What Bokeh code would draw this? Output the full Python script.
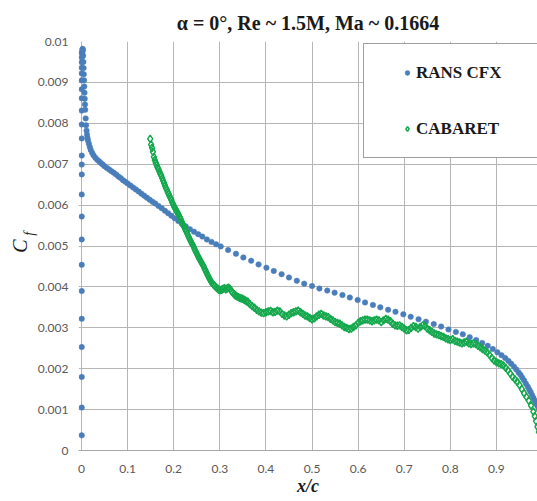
import math
from bokeh.plotting import figure
from bokeh.models import (ColumnDataSource, Legend, LegendItem, FixedTicker,
                          CustomJSTickFormatter, LinearAxis, Range1d)
from bokeh.embed import file_html
from bokeh.resources import INLINE

title_text = "α = 0°, Re ~ 1.5M, Ma ~ 0.1664"
x_label = "x/c"
y_label_main = "C"
y_label_sub = "f"
series_names = ["RANS CFX", "CABARET"]
x_ticks = [0.0, 0.1, 0.2, 0.3, 0.4, 0.5, 0.6, 0.7, 0.8, 0.9, 1.0]
y_ticks = [0.0, 0.001, 0.002, 0.003, 0.004, 0.005, 0.006, 0.007, 0.008, 0.009, 0.01]

# RANS CFX (x/c, Cf in units of 1e-3)
rans_x = [
    0.0005, 0.0005, 0.0005, 0.0005, 0.0005, 0.0005, 0.0005, 0.0005, 0.0005, 0.0005,
    0.0005, 0.0005, 0.0005, 0.0005, 0.0005, 0.0005, 0.0005, 0.0005, 0.0005, 0.0005,
    0.0005, 0.0005, 0.0005, 0.0005,
    0.0015, 0.002, 0.0025, 0.003, 0.0035, 0.004, 0.0045, 0.005, 0.0055, 0.006,
    0.0065, 0.007, 0.0075, 0.008, 0.009, 0.010, 0.011, 0.012, 0.013, 0.014,
    0.016, 0.018, 0.020, 0.023, 0.026, 0.030, 0.034, 0.038, 0.042, 0.046,
    0.050, 0.055, 0.060, 0.065, 0.070, 0.075, 0.080, 0.085, 0.090, 0.095,
    0.100, 0.106, 0.112, 0.118, 0.124, 0.130, 0.136, 0.142, 0.148, 0.154,
    0.160, 0.167, 0.174, 0.181, 0.188, 0.195, 0.202, 0.210, 0.218, 0.226,
    0.235, 0.244, 0.253, 0.262, 0.272, 0.282, 0.292, 0.302, 0.318, 0.335,
    0.351, 0.368, 0.384, 0.401, 0.417, 0.434, 0.450, 0.467, 0.483, 0.500,
    0.516, 0.533, 0.549, 0.566, 0.582, 0.599, 0.615, 0.632, 0.648, 0.665,
    0.681, 0.698, 0.714, 0.731, 0.747, 0.764, 0.780, 0.796, 0.812, 0.827,
    0.842, 0.856, 0.869, 0.881, 0.892, 0.902, 0.911, 0.919, 0.926, 0.932,
    0.938, 0.943, 0.948, 0.952, 0.956, 0.960, 0.964, 0.968, 0.971, 0.974,
    0.977, 0.980, 0.983, 0.986, 0.989, 0.992,
]
rans_cf_e3 = [
    0.37, 1.05, 1.80, 2.53, 3.22, 3.90, 4.54, 5.16, 5.72, 6.26,
    6.75, 6.99, 7.21, 7.63, 7.97, 8.31, 8.61, 8.83, 9.05, 9.22,
    9.36, 9.49, 9.61, 9.73,
    9.70, 9.80, 9.82, 9.78, 9.65, 9.50, 9.35, 9.20, 9.05, 8.90,
    8.75, 8.60, 8.46, 8.33, 8.12, 7.95, 7.82, 7.72, 7.64, 7.58,
    7.50, 7.42, 7.35, 7.28, 7.22, 7.16, 7.11, 7.07, 7.03, 6.99,
    6.95, 6.91, 6.87, 6.83, 6.79, 6.75, 6.70, 6.66, 6.61, 6.57,
    6.53, 6.48, 6.43, 6.38, 6.33, 6.28, 6.23, 6.18, 6.13, 6.08,
    6.04, 5.98, 5.92, 5.86, 5.80, 5.74, 5.68, 5.61, 5.54, 5.48,
    5.41, 5.35, 5.29, 5.23, 5.16, 5.10, 5.04, 4.99, 4.90, 4.81,
    4.72, 4.64, 4.55, 4.47, 4.39, 4.31, 4.23, 4.15, 4.08, 4.02,
    3.96, 3.91, 3.86, 3.80, 3.74, 3.68, 3.62, 3.56, 3.50, 3.44,
    3.39, 3.33, 3.27, 3.21, 3.15, 3.09, 3.03, 2.96, 2.90, 2.84,
    2.77, 2.70, 2.63, 2.56, 2.48, 2.40, 2.33, 2.26, 2.19, 2.12,
    2.05, 1.98, 1.91, 1.85, 1.78, 1.71, 1.63, 1.56, 1.49, 1.43,
    1.36, 1.29, 1.22, 1.15, 1.08, 1.00,
]

# CABARET (x/c, Cf in units of 1e-3)
cab_x = [
    0.149, 0.151, 0.153, 0.155, 0.157, 0.159, 0.161, 0.163, 0.165, 0.167,
    0.169, 0.171, 0.173, 0.175, 0.177, 0.179, 0.181, 0.183, 0.185, 0.187,
    0.189, 0.191, 0.193, 0.195, 0.197, 0.199, 0.201, 0.203, 0.205, 0.207,
    0.209, 0.211, 0.213, 0.215, 0.217, 0.219, 0.221, 0.223, 0.225, 0.227,
    0.229, 0.231, 0.233, 0.235, 0.237, 0.239, 0.241, 0.243, 0.245, 0.247,
    0.249, 0.251, 0.253, 0.255, 0.257, 0.259, 0.261, 0.263, 0.265, 0.267,
    0.269, 0.271, 0.273, 0.275, 0.277, 0.279, 0.281, 0.283, 0.286, 0.289,
    0.292, 0.295, 0.298, 0.301, 0.304, 0.307, 0.310, 0.313, 0.316, 0.319,
    0.322, 0.325, 0.328, 0.331, 0.334, 0.337, 0.340, 0.343, 0.346, 0.349,
    0.352, 0.355, 0.358, 0.361, 0.365, 0.370, 0.375, 0.380, 0.385, 0.390,
    0.395, 0.400, 0.405, 0.410, 0.415, 0.420, 0.425, 0.430, 0.435, 0.440,
    0.445, 0.450, 0.455, 0.460, 0.465, 0.470, 0.475, 0.480, 0.485, 0.490,
    0.495, 0.500, 0.505, 0.510, 0.515, 0.520, 0.525, 0.530, 0.535, 0.540,
    0.545, 0.550, 0.555, 0.560, 0.565, 0.570, 0.575, 0.580, 0.585, 0.590,
    0.595, 0.600, 0.605, 0.610, 0.615, 0.620, 0.625, 0.630, 0.635, 0.640,
    0.645, 0.650, 0.655, 0.660, 0.665, 0.670, 0.675, 0.680, 0.685, 0.690,
    0.695, 0.700, 0.705, 0.710, 0.715, 0.720, 0.725, 0.730, 0.735, 0.740,
    0.745, 0.750, 0.755, 0.760, 0.765, 0.770, 0.775, 0.780, 0.785, 0.790,
    0.795, 0.800, 0.805, 0.810, 0.815, 0.820, 0.825, 0.830, 0.835, 0.840,
    0.845, 0.850, 0.855, 0.860, 0.865, 0.870, 0.875, 0.880, 0.885, 0.890,
    0.895, 0.900, 0.905, 0.910, 0.915, 0.920, 0.925, 0.930, 0.935, 0.940,
    0.945, 0.950, 0.955, 0.960, 0.965, 0.970, 0.975, 0.980, 0.983, 0.986,
    0.989, 0.992,
]
cab_cf_e3 = [
    7.62, 7.48, 7.40, 7.30, 7.18, 7.10, 7.04, 6.98, 6.92, 6.88,
    6.82, 6.76, 6.72, 6.66, 6.60, 6.54, 6.48, 6.42, 6.38, 6.32,
    6.27, 6.22, 6.17, 6.12, 6.06, 6.01, 5.96, 5.92, 5.88, 5.84,
    5.80, 5.76, 5.71, 5.66, 5.60, 5.55, 5.50, 5.46, 5.41, 5.36,
    5.31, 5.26, 5.21, 5.16, 5.12, 5.07, 5.03, 4.99, 4.93, 4.88,
    4.84, 4.79, 4.74, 4.70, 4.66, 4.62, 4.58, 4.54, 4.50, 4.44,
    4.40, 4.35, 4.30, 4.26, 4.21, 4.17, 4.13, 4.10, 4.06, 4.02,
    3.99, 3.96, 3.93, 3.92, 3.93, 3.95, 3.97, 3.94, 3.96, 3.98,
    3.95, 3.90, 3.86, 3.82, 3.79, 3.77, 3.75, 3.73, 3.72, 3.71,
    3.69, 3.67, 3.65, 3.63, 3.58, 3.53, 3.49, 3.44, 3.40, 3.37,
    3.36, 3.38, 3.40, 3.41, 3.38, 3.39, 3.42, 3.40, 3.34, 3.30,
    3.28, 3.32, 3.36, 3.38, 3.40, 3.42, 3.38, 3.34, 3.30, 3.28,
    3.24, 3.21, 3.23, 3.28, 3.32, 3.34, 3.30, 3.28, 3.26, 3.22,
    3.18, 3.14, 3.12, 3.10, 3.06, 3.02, 3.00, 2.97, 2.98, 3.02,
    3.06, 3.12, 3.16, 3.18, 3.20, 3.20, 3.18, 3.16, 3.18, 3.20,
    3.18, 3.14, 3.18, 3.22, 3.20, 3.16, 3.10, 3.06, 3.05, 3.06,
    3.02, 2.98, 2.94, 2.95, 3.00, 3.04, 3.02, 2.98, 3.02, 3.06,
    3.04, 2.98, 2.94, 2.90, 2.86, 2.84, 2.82, 2.80, 2.78, 2.74,
    2.72, 2.70, 2.72, 2.68, 2.66, 2.64, 2.62, 2.64, 2.66, 2.62,
    2.60, 2.62, 2.60, 2.56, 2.52, 2.48, 2.44, 2.40, 2.34, 2.26,
    2.20, 2.16, 2.13, 2.11, 2.08, 2.02, 1.96, 1.88, 1.80, 1.74,
    1.68, 1.60, 1.50, 1.40, 1.31, 1.22, 1.10, 0.95, 0.84, 0.72,
    0.58, 0.45,
]

rans_cf = [v * 1e-3 for v in rans_cf_e3]
cab_cf = [v * 1e-3 for v in cab_cf_e3]

BLUE = "#4a7ebb"
GREEN = "#14a84c"
GRID = "#b5b5b5"
SERIF = "Liberation Serif"

p = figure(width=537, height=501, output_backend="svg", toolbar_location=None,
           x_range=Range1d(-0.0065, 0.989), y_range=Range1d(0, 0.01),
           min_border_left=78, min_border_right=0, min_border_top=41,
           min_border_bottom=51, background_fill_color="white",
           border_fill_color="white", outline_line_color=None)

p.title.text = title_text
p.title.align = "center"
p.title.text_font = SERIF
p.title.text_font_style = "bold"
p.title.text_font_size = "20px"
p.title.text_color = "#1a1a1a"
p.title.standoff = 15

xt = FixedTicker(ticks=x_ticks)
yt = FixedTicker(ticks=y_ticks)
fmt = "return Number(tick.toFixed(4)).toString();"
p.xaxis.ticker = xt
p.yaxis.ticker = yt
p.xgrid.ticker = xt
p.ygrid.ticker = yt
p.xaxis.formatter = CustomJSTickFormatter(code=fmt)
p.yaxis.formatter = CustomJSTickFormatter(code=fmt)

for ax in (p.xaxis, p.yaxis):
    ax.major_tick_line_color = None
    ax.minor_tick_line_color = None
    ax.major_tick_out = 0
    ax.major_tick_in = 0
    ax.major_label_text_font = "Lato"
    ax.major_label_text_font_size = "12px"
    ax.major_label_text_color = "#595959"
p.xaxis.axis_line_color = "#a6a6a6"
p.yaxis.axis_line_color = None
p.xaxis.major_label_standoff = 14
p.yaxis.major_label_standoff = 10
p.xaxis.axis_label = x_label
p.xaxis.axis_label_text_font = SERIF
p.xaxis.axis_label_text_font_style = "bold italic"
p.xaxis.axis_label_text_font_size = "18px"
p.xaxis.axis_label_text_color = "#1a1a1a"
p.xaxis.axis_label_standoff = 0

# outer left axis carrying the "C" label with its subscript "f"
sub_pos = 0.0053
cf_axis = LinearAxis(ticker=FixedTicker(ticks=[sub_pos]),
                     major_label_overrides={sub_pos: y_label_sub},
                     axis_label=y_label_main)
cf_axis.axis_line_color = None
cf_axis.major_tick_line_color = None
cf_axis.minor_tick_line_color = None
cf_axis.major_tick_out = 0
cf_axis.major_tick_in = 0
cf_axis.major_label_orientation = "vertical"
cf_axis.major_label_standoff = -3
cf_axis.major_label_text_font = SERIF
cf_axis.major_label_text_font_style = "italic"
cf_axis.major_label_text_font_size = "14px"
cf_axis.major_label_text_color = "#1a1a1a"
cf_axis.axis_label_standoff = -11
cf_axis.axis_label_text_font = SERIF
cf_axis.axis_label_text_font_style = "italic"
cf_axis.axis_label_text_font_size = "20px"
cf_axis.axis_label_text_color = "#1a1a1a"
p.add_layout(cf_axis, "left")

p.xgrid.grid_line_color = GRID
p.ygrid.grid_line_color = GRID
p.xgrid.grid_line_width = 1
p.ygrid.grid_line_width = 1

src_r = ColumnDataSource(dict(x=rans_x, y=rans_cf))
src_c = ColumnDataSource(dict(x=cab_x, y=cab_cf))

r1 = p.scatter("x", "y", source=src_r, marker="circle", size=5.5,
               fill_color=BLUE, line_color=BLUE, line_width=0.5)
r2 = p.scatter("x", "y", source=src_c, marker="diamond",
               size=7.5, fill_color=None, line_color=GREEN, line_width=1.5)

legend = Legend(items=[LegendItem(label=series_names[0], renderers=[r1]),
                       LegendItem(label=series_names[1], renderers=[r2])],
                location=(285, 292), margin=0, padding=10, spacing=19,
                glyph_height=37, glyph_width=12, label_standoff=3,
                label_width=150,
                title=" ", title_location="left", title_text_font_size="10px",
                title_standoff=16,
                border_line_color="#404040", border_line_width=1,
                background_fill_color="white", background_fill_alpha=1.0,
                label_text_font=SERIF, label_text_font_style="bold",
                label_text_font_size="17px", label_text_color="#1a1a1a")
p.add_layout(legend)

open("out.html", "w").write(file_html(p, INLINE))
